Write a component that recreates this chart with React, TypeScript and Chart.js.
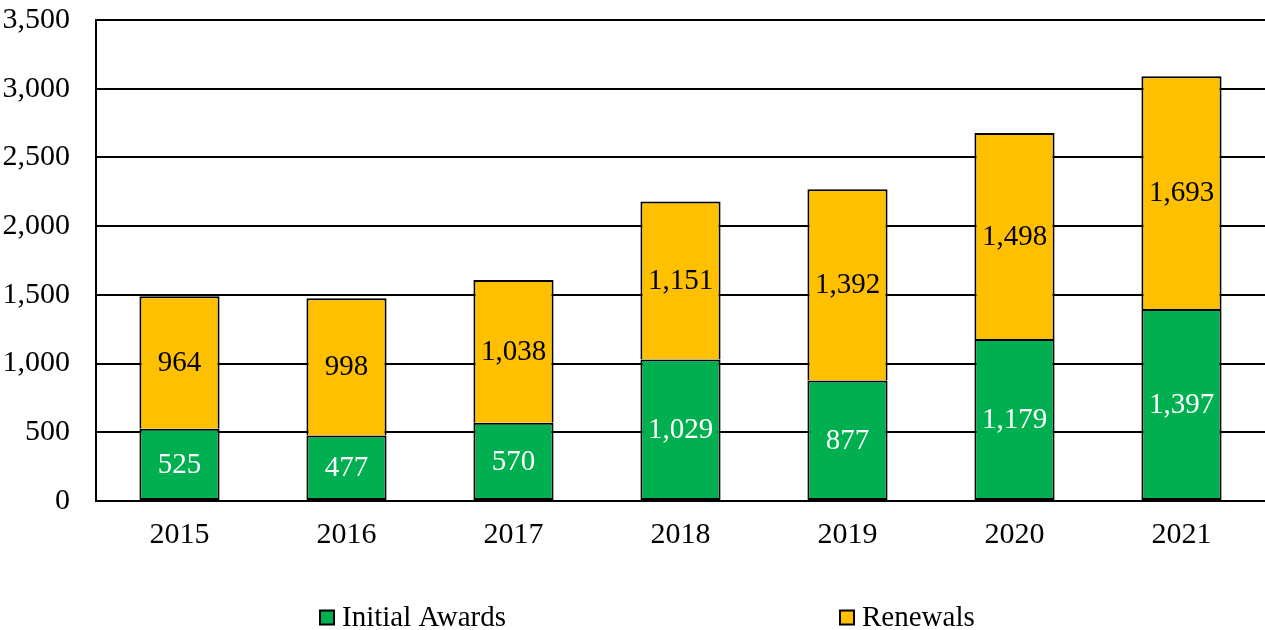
import React, { useEffect, useRef } from "react";
import { Chart, registerables } from "chart.js";

Chart.register(...registerables);

const years = ["2015", "2016", "2017", "2018", "2019", "2020", "2021"];
const initialAwards = [525, 477, 570, 1029, 877, 1179, 1397];
const renewals = [964, 998, 1038, 1151, 1392, 1498, 1693];
const seriesNames = ["Initial Awards", "Renewals"];
const seriesColors = ["#00B050", "#FFC000"];
const yMax = 3500;
const yStep = 500;

const FONT = '"Liberation Serif", "Times New Roman", serif';

const dataLabelPlugin = {
  id: "segmentLabels",
  afterDatasetsDraw(chart: any) {
    const ctx = chart.ctx;
    ctx.save();
    ctx.font = `29px ${FONT}`;
    ctx.textAlign = "center";
    ctx.textBaseline = "middle";
    chart.data.datasets.forEach((ds: any, i: number) => {
      const meta = chart.getDatasetMeta(i);
      meta.data.forEach((el: any, j: number) => {
        const v = ds.data[j];
        ctx.fillStyle = i === 0 ? "#ffffff" : "#000000";
        ctx.fillText(v.toLocaleString("en-US"), el.x, (el.y + el.base) / 2 + 1);
      });
    });
    ctx.restore();
  },
};

const legendOffsets = [224, 744];

const customLegendPlugin = {
  id: "customLegend",
  afterDraw(chart: any) {
    const ctx = chart.ctx;
    const left = chart.chartArea.left;
    const y = chart.height - 12.5;
    ctx.save();
    ctx.font = `29px ${FONT}`;
    ctx.textBaseline = "middle";
    ctx.textAlign = "left";
    chart.data.datasets.forEach((ds: any, i: number) => {
      const x = left + legendOffsets[i];
      ctx.fillStyle = ds.backgroundColor;
      ctx.fillRect(x, y - 7, 14, 14);
      ctx.strokeStyle = "#000";
      ctx.lineWidth = 2;
      ctx.strokeRect(x, y - 7, 14, 14);
      ctx.fillStyle = "#000";
      ctx.fillText(ds.label, x + 22, y + 1);
    });
    ctx.restore();
  },
};

export default function App() {
  const ref = useRef<HTMLCanvasElement>(null);
  useEffect(() => {
    document.body.style.margin = "0";
    const chart = new Chart(ref.current!, {
      type: "bar",
      data: {
        labels: years,
        datasets: [0, 1].map((i) => ({
          label: seriesNames[i],
          data: i === 0 ? initialAwards : renewals,
          backgroundColor: seriesColors[i],
          borderColor: "#000000",
          borderWidth: 2,
          borderSkipped: i === 0 ? false : "bottom",
          barPercentage: 0.48,
          categoryPercentage: 1,
        })),
      },
      options: {
        animation: false,
        responsive: true,
        maintainAspectRatio: false,
        layout: { padding: { left: 0, top: 1, right: 0, bottom: 61 } },
        plugins: {
          tooltip: { enabled: false },
          legend: { display: false },
        },
        scales: {
          x: {
            stacked: true,
            grid: { display: false, drawTicks: false },
            border: { display: true, color: "#000", width: 2 },
            ticks: { color: "#000", font: { family: FONT, size: 30 }, padding: 16 },
          },
          y: {
            stacked: true,
            min: 0,
            max: yMax,
            afterFit: (s: any) => {
              s.width = 96;
            },
            grid: {
              color: "#000",
              lineWidth: 2,
              drawTicks: true,
              tickLength: 24,
              tickColor: "rgba(0,0,0,0)",
            },
            border: { display: true, color: "#000", width: 2 },
            ticks: {
              stepSize: yStep,
              autoSkip: false,
              color: "#000",
              padding: 2,
              font: { family: FONT, size: 30 },
              callback: (v: any) => Number(v).toLocaleString("en-US"),
            },
          },
        },
      },
      plugins: [dataLabelPlugin, customLegendPlugin],
    });
    return () => chart.destroy();
  }, []);
  return (
    <div style={{ position: "relative", width: 1265, height: 630 }}>
      <canvas ref={ref} />
    </div>
  );
}
